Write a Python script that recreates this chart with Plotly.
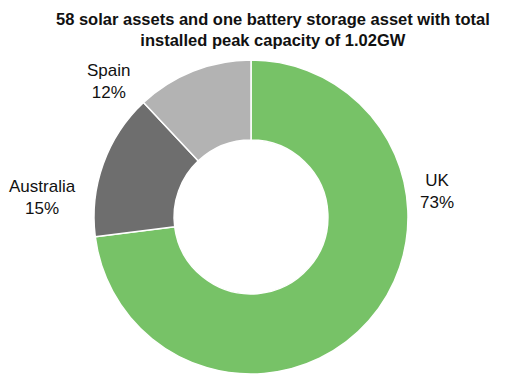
import plotly.graph_objects as go

# Portfolio split by installed peak capacity
countries = ["UK", "Australia", "Spain"]
shares = [73, 15, 12]
colors = ["#77C267", "#6E6E6E", "#B3B3B3"]

W, H = 505, 376
FONT = "Liberation Sans Narrow, Arial Narrow, Liberation Sans, Arial, sans-serif"

fig = go.Figure(
    go.Pie(
        labels=countries,
        values=shares,
        hole=0.49,
        sort=False,
        direction="clockwise",
        rotation=0,
        textinfo="none",
        marker=dict(colors=colors, line=dict(color="white", width=1.5)),
        domain=dict(x=[0, 502 / W], y=[2 / H, 316 / H]),
        showlegend=False,
    )
)

# Outside labels: category name above its percentage
label_pos = {"UK": (437, 191), "Australia": (42, 197), "Spain": (108, 81)}
for name, val in zip(countries, shares):
    px, py = label_pos[name]
    fig.add_annotation(
        x=px / W, y=1 - py / H, xref="paper", yref="paper",
        text=f"{name}<br>{val}%", showarrow=False,
        font=dict(family=FONT, size=17, color="#111111"),
        xanchor="center", yanchor="middle", align="center",
    )

fig.add_annotation(
    x=273 / W, y=1 - 29 / H, xref="paper", yref="paper",
    text="<b>58 solar assets and one battery storage asset with total<br>installed peak capacity of 1.02GW</b>",
    showarrow=False, align="center", xanchor="center", yanchor="middle",
    font=dict(family=FONT, size=16.5, color="#111111"),
)

fig.update_layout(
    width=W, height=H,
    margin=dict(l=0, r=0, t=0, b=0),
    paper_bgcolor="white", plot_bgcolor="white",
)

fig.write_html("out.html")
